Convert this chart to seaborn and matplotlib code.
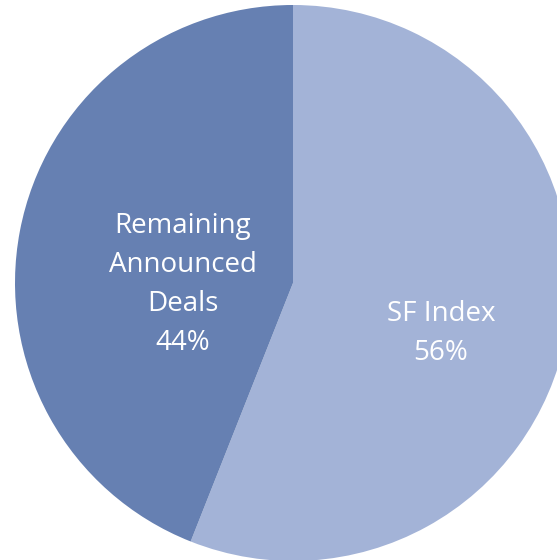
import matplotlib
matplotlib.use("Agg")
import matplotlib.pyplot as plt
import seaborn as sns

# data
categories = ["SF Index", "Remaining\nAnnounced\nDeals"]
shares = [56, 44]
colors = ["#A3B3D7", "#6680B2"]

sns.set_theme(style="white")
plt.rcParams["font.family"] = ["Open Sans", "DejaVu Sans"]

fig = plt.figure(figsize=(5.57, 5.60), dpi=100)
ax = fig.add_axes([0, 0, 1, 1])

labels = [f"{c}\n{v}%" for c, v in zip(categories, shares)]
wedges, texts = ax.pie(
    shares, labels=labels, colors=colors, startangle=90, counterclock=False,
    radius=1.0, labeldistance=0.5,
    wedgeprops=dict(linewidth=0),
    textprops=dict(color="white", fontsize=20, ha="center", va="center",
                   linespacing=1.52),
)

# label placement inside the slices
label_pos = [(0.532, -0.18), (-0.396, -0.005)]
for t, p in zip(texts, label_pos):
    t.set_position(p)
    t.set_horizontalalignment("center")
    t.set_multialignment("center")

# frame so the circle is clipped on the right/bottom like the original
ax.set_aspect("auto")
ax.set_xlim(-293 / 278, (557 - 293) / 278)
ax.set_ylim((283 - 560) / 278, 283 / 278)
ax.axis("off")

fig.savefig("out.png", dpi=100)
